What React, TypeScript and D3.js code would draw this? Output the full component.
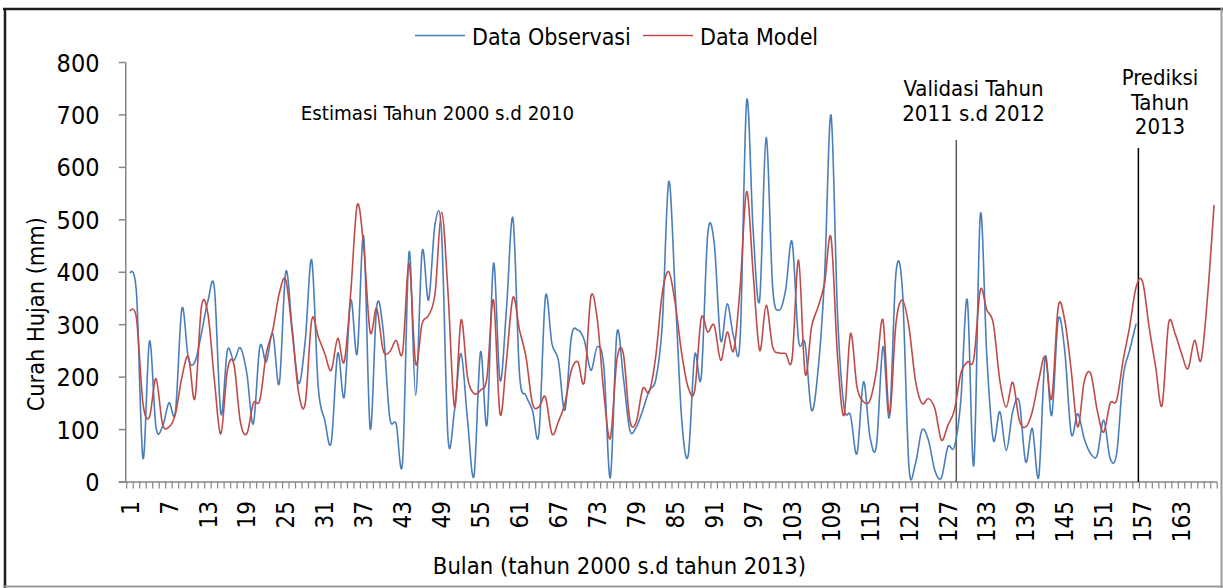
import React from "react";
import * as d3 from "d3";

// ---- data ----
const observasi: number[] = [
  398, 360, 45, 269, 105, 105, 151, 134, 331, 235, 229, 283, 345, 370, 130, 251, 232, 256, 207, 111,
  258, 229, 283, 188, 401, 290, 188, 270, 423, 181, 118, 75, 245, 162, 347, 245, 468, 102, 334, 290,
  124, 111, 40, 439, 165, 439, 347, 492, 476, 83, 137, 245, 118, 12, 248, 110, 417, 194, 330, 503,
  207, 165, 137, 92, 353, 264, 232, 137, 277, 290, 270, 213, 258, 220, 8, 283, 200, 99, 105, 137,
  175, 195, 300, 573, 360, 118, 51, 242, 200, 472, 456, 270, 340, 277, 274, 727, 480, 347, 657, 372,
  328, 366, 458, 270, 264, 137, 213, 391, 700, 320, 143, 127, 54, 191, 86, 70, 258, 124, 398, 366,
  30, 35, 99, 80, 22, 8, 67, 67, 156, 347, 32, 510, 240, 80, 134, 60, 135, 153, 38, 102,
  10, 239, 127, 309, 251, 92, 130, 83, 54, 51, 118, 45, 54, 200, 251, 302,
];

const model: number[] = [
  326, 312, 150, 124, 197, 111, 105, 130, 200, 239, 159, 334, 321, 194, 92, 213, 225, 115, 92, 150,
  156, 245, 290, 360, 385, 285, 169, 150, 309, 277, 245, 213, 274, 229, 360, 528, 449, 286, 331, 251,
  248, 270, 248, 417, 226, 302, 318, 360, 515, 360, 143, 309, 200, 169, 175, 200, 347, 130, 232, 352,
  290, 239, 150, 143, 162, 92, 115, 150, 213, 229, 191, 353, 309, 169, 83, 232, 245, 118, 115, 178,
  172, 240, 360, 401, 340, 245, 180, 175, 312, 286, 299, 232, 286, 251, 372, 554, 398, 251, 337, 258,
  246, 245, 235, 423, 207, 296, 334, 379, 466, 240, 127, 283, 181, 153, 156, 213, 309, 130, 302, 347,
  296, 194, 150, 159, 140, 80, 108, 137, 207, 229, 235, 366, 328, 302, 194, 143, 190, 118, 105, 134,
  194, 239, 159, 334, 309, 213, 105, 191, 207, 137, 95, 150, 156, 232, 296, 372, 382, 296, 220, 146,
  302, 283, 245, 216, 270, 232, 353, 528,
];

const nBulan = 168;
const bulanLabels: number[] = d3.range(1, nBulan + 1, 6);
const yTicks: number[] = [0, 100, 200, 300, 400, 500, 600, 700, 800];
const seriesNames = ["Data Observasi", "Data Model"];
const batasValidasi = 128.3;
const batasPrediksi = 156.35;

const W = 1223;
const H = 588;
const FONT = "'Liberation Sans Narrow', 'Arial Narrow', 'DejaVu Sans Condensed', Roboto, sans-serif";
const BLUE = "#4A7EBB";
const RED = "#BE4B48";
const AXIS = "#868686";

export default function App() {
  const x = d3.scaleLinear().domain([1, nBulan]).range([130, 1214]);
  const y = d3.scaleLinear().domain([0, 800]).range([482, 62.5]);
  const step = x(2) - x(1);
  const axisLeft = x(1) - step / 2 - 1;
  const axisRight = x(nBulan) + step / 2;

  const line = d3
    .line<number>()
    .x((_, i) => x(i + 1))
    .y((d) => y(d))
    .curve(d3.curveCardinal.tension(0));

  const catTicks = d3.range(0, nBulan + 1).map((k) => x(1) - step / 2 + k * step);

  return (
    <svg
      width={W}
      height={H}
      style={{ position: "absolute", left: 0, top: 0, background: "#fff" }}
      fontFamily={FONT}
    >
      <rect x={0} y={0} width={W} height={H} fill="#fff" />
      {/* frame */}
      <line x1={3} y1={9} x2={W} y2={9} stroke="#1e1e1e" strokeWidth={2.5} />
      <line x1={5} y1={8} x2={5} y2={H} stroke="#1e1e1e" strokeWidth={2.5} />
      <line x1={3} y1={586.5} x2={W} y2={586.5} stroke="#9a9a9a" strokeWidth={2} />
      <line x1={1221.5} y1={8} x2={1221.5} y2={H} stroke="#9a9a9a" strokeWidth={2} />

      {/* y axis */}
      <line x1={axisLeft} y1={y(800)} x2={axisLeft} y2={y(0)} stroke={AXIS} strokeWidth={1.5} />
      {yTicks.map((t) => (
        <g key={t}>
          <line x1={axisLeft - 7} x2={axisLeft} y1={y(t)} y2={y(t)} stroke={AXIS} strokeWidth={1.5} />
          <text x={99.5} y={y(t)} dy="0.36em" textAnchor="end" fontSize={25} fill="#000">
            {t}
          </text>
        </g>
      ))}
      <text
        transform={`translate(44, ${(y(0) + y(800)) / 2 + 42}) rotate(-90)`}
        textAnchor="middle"
        fontSize={23.3}
        fill="#000"
      >
        Curah Hujan (mm)
      </text>

      {/* x axis */}
      <line x1={axisLeft - 7} y1={y(0)} x2={axisRight} y2={y(0)} stroke={AXIS} strokeWidth={1.5} />
      {catTicks.map((tx, k) => (
        <line key={k} x1={tx} x2={tx} y1={y(0)} y2={y(0) + 6.5} stroke={AXIS} strokeWidth={1.2} />
      ))}
      {bulanLabels.map((b) => (
        <text
          key={b}
          transform={`translate(${x(b)}, 501) rotate(-90)`}
          textAnchor="end"
          dy="0.36em"
          fontSize={24}
          fill="#000"
        >
          {b}
        </text>
      ))}
      <text x={619.5} y={574} textAnchor="middle" fontSize={23.6} fill="#000">
        Bulan (tahun 2000 s.d tahun 2013)
      </text>

      {/* vertical separators */}
      <line x1={x(batasValidasi)} x2={x(batasValidasi)} y1={140} y2={y(0)} stroke="#595959" strokeWidth={1.5} />
      <line x1={x(batasPrediksi)} x2={x(batasPrediksi)} y1={148} y2={y(0)} stroke="#000" strokeWidth={1.5} />

      {/* annotations */}
      <text x={437.5} y={119.5} textAnchor="middle" fontSize={20.3} fill="#000">
        Estimasi Tahun 2000 s.d 2010
      </text>
      <text x={973.5} y={96} textAnchor="middle" fontSize={22} fill="#000">
        Validasi Tahun
      </text>
      <text x={973.5} y={121} textAnchor="middle" fontSize={22} fill="#000">
        2011 s.d 2012
      </text>
      <text x={1160} y={85} textAnchor="middle" fontSize={22} fill="#000">
        Prediksi
      </text>
      <text x={1160} y={109.5} textAnchor="middle" fontSize={22} fill="#000">
        Tahun
      </text>
      <text x={1160} y={134} textAnchor="middle" fontSize={22} fill="#000">
        2013
      </text>

      {/* series */}
      <path d={line(observasi) || ""} fill="none" stroke={BLUE} strokeWidth={1.6} strokeLinejoin="round" />
      <path d={line(model) || ""} fill="none" stroke={RED} strokeWidth={1.6} strokeLinejoin="round" />

      {/* legend */}
      <line x1={415} x2={465} y1={35.5} y2={35.5} stroke={BLUE} strokeWidth={1.6} />
      <text x={472} y={45} fontSize={23} fill="#000">
        {seriesNames[0]}
      </text>
      <line x1={643} x2={693} y1={35.5} y2={35.5} stroke={RED} strokeWidth={1.6} />
      <text x={700} y={45} fontSize={23} fill="#000">
        {seriesNames[1]}
      </text>
    </svg>
  );
}
